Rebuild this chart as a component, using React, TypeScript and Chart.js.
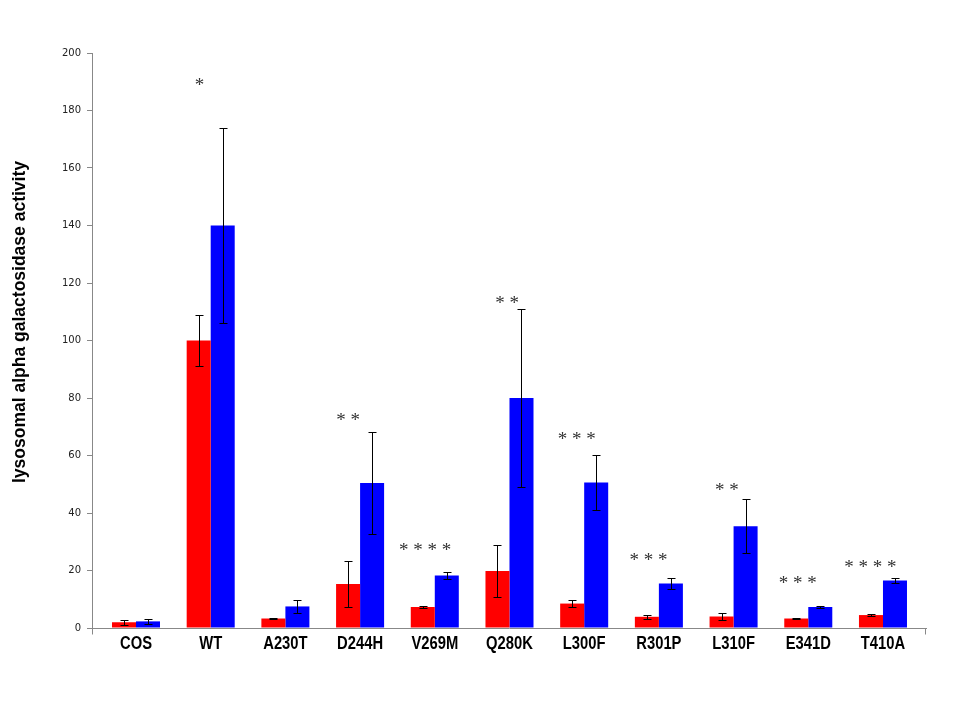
import React, { useEffect, useRef } from "react";
import { Chart, registerables } from "chart.js";

Chart.register(...registerables);

const categories = ["COS", "WT", "A230T", "D244H", "V269M", "Q280K", "L300F", "R301P", "L310F", "E341D", "T410A"];
const redValues = [2.0, 100, 3.3, 15.3, 7.3, 19.8, 8.5, 3.9, 4.0, 3.3, 4.5];
const redErrors = [0.8, 9, 0.2, 8, 0.5, 9, 1.3, 0.7, 1.3, 0.3, 0.2];
const blueValues = [2.3, 140, 7.5, 50.4, 18.3, 80, 50.6, 15.5, 35.4, 7.3, 16.5];
const blueErrors = [0.9, 34, 2.3, 17.7, 1.2, 31, 9.5, 2.0, 9.4, 0.4, 0.8];
const starLabels = ["", "*", "", "**", "****", "**", "***", "***", "**", "***", "****"];
const starLevels = [0, 190, 0, 73.4, 28, 114, 66.8, 24.7, 49, 16.7, 22.3];
const starOffsets = [0, -0.15, 0, -0.16, -0.13, -0.03, -0.1, -0.14, -0.09, -0.14, -0.17];
const yTicks = [0, 20, 40, 60, 80, 100, 120, 140, 160, 180, 200];
const yTitle = "lysosomal alpha galactosidase activity";

const NARROW = 0.82;
const boldFont = "bold 18px 'Liberation Sans', Arial, sans-serif";

// Excel-style inset of the category band inside the axis line
const xBandPlugin = {
  id: "xBand",
  afterLayout(chart: any) {
    const s = chart.scales.x;
    s._startValue = -0.589;
    s._valueRange = 11.165;
  },
};

const errorBarPlugin = {
  id: "errorBars",
  afterDatasetsDraw(chart: any) {
    const ctx = chart.ctx;
    const yScale = chart.scales.y;
    ctx.save();
    ctx.strokeStyle = "#000";
    ctx.lineWidth = 1;
    chart.data.datasets.forEach((ds: any, di: number) => {
      const meta = chart.getDatasetMeta(di);
      meta.data.forEach((bar: any, i: number) => {
        const v = ds.data[i];
        const e = ds.errors[i];
        const x = Math.round(bar.x) + 0.5;
        const yTop = Math.round(yScale.getPixelForValue(v + e)) + 0.5;
        const yBot = Math.round(yScale.getPixelForValue(v - e)) + 0.5;
        ctx.beginPath();
        ctx.moveTo(x, yTop);
        ctx.lineTo(x, yBot);
        ctx.moveTo(x - 4, yTop);
        ctx.lineTo(x + 4, yTop);
        ctx.moveTo(x - 4, yBot);
        ctx.lineTo(x + 4, yBot);
        ctx.stroke();
      });
    });
    ctx.restore();
  },
};

const textPlugin = {
  id: "texts",
  afterDraw(chart: any) {
    const ctx = chart.ctx;
    const xScale = chart.scales.x;
    const yScale = chart.scales.y;
    const area = chart.chartArea;

    // end tick marks of the category axis
    ctx.save();
    ctx.strokeStyle = "#888";
    ctx.lineWidth = 1;
    ctx.beginPath();
    const yb = Math.round(area.bottom) + 0.5;
    ctx.moveTo(Math.round(area.left) + 0.5, yb);
    ctx.lineTo(Math.round(area.left) + 0.5, yb + 6);
    ctx.moveTo(Math.round(area.right) - 0.5, yb);
    ctx.lineTo(Math.round(area.right) - 0.5, yb + 6);
    ctx.stroke();
    ctx.restore();

    // significance stars
    ctx.save();
    ctx.fillStyle = "#333";
    ctx.font = "19px 'Liberation Serif', 'DejaVu Serif', serif";
    ctx.textAlign = "center";
    ctx.textBaseline = "middle";
    starLabels.forEach((s, i) => {
      if (!s) return;
      const x = xScale.getPixelForValue(i + starOffsets[i]);
      const y = yScale.getPixelForValue(starLevels[i]);
      ctx.fillText(s.split("").join(" "), x, y + 4);
    });
    ctx.restore();

    // category labels (narrow bold)
    ctx.save();
    ctx.fillStyle = "#000";
    ctx.font = boldFont;
    ctx.textAlign = "center";
    ctx.textBaseline = "alphabetic";
    categories.forEach((c, i) => {
      const x = xScale.getPixelForValue(i);
      ctx.save();
      ctx.translate(x, yScale.bottom + 21);
      ctx.scale(NARROW, 1);
      ctx.fillText(c, 0, 0);
      ctx.restore();
    });
    ctx.restore();

    // y axis title
    ctx.save();
    ctx.fillStyle = "#000";
    ctx.font = boldFont;
    ctx.textAlign = "center";
    ctx.textBaseline = "middle";
    ctx.translate(20, 322);
    ctx.rotate(-Math.PI / 2);
    const w = ctx.measureText(yTitle).width;
    ctx.scale(322 / w, 1);
    ctx.fillText(yTitle, 0, 0);
    ctx.restore();
  },
};

export default function App() {
  const ref = useRef<HTMLCanvasElement>(null);
  useEffect(() => {
    if (!ref.current) return;
    const chart = new Chart(ref.current, {
      type: "bar",
      data: {
        labels: categories,
        datasets: [
          { data: redValues, errors: redErrors, backgroundColor: "#FF0000", borderWidth: 0 } as any,
          { data: blueValues, errors: blueErrors, backgroundColor: "#0000FF", borderWidth: 0 } as any,
        ],
      },
      options: {
        animation: false,
        responsive: false,
        devicePixelRatio: 1,
        layout: { padding: { top: 53, right: 34, bottom: 0, left: 0 } },
        plugins: { legend: { display: false }, tooltip: { enabled: false } },
        datasets: { bar: { categoryPercentage: 0.643, barPercentage: 1 } },
        scales: {
          x: {
            offset: true,
            grid: { display: false },
            border: { display: true, color: "#888" },
            ticks: { display: false },
            afterFit: (s: any) => { s.height = 92; },
          },
          y: {
            min: 0,
            max: 200,
            afterBuildTicks: (s: any) => { s.ticks = yTicks.map((v) => ({ value: v })); },
            grid: { display: true, drawOnChartArea: false, drawTicks: true, tickLength: 5, color: "#888" },
            border: { display: true, color: "#888" },
            ticks: {
              color: "#222",
              padding: 6,
              font: { family: "'DejaVu Sans', sans-serif", size: 10 },
            },
            afterFit: (s: any) => { s.width = 92; },
          },
        },
      },
      plugins: [xBandPlugin, errorBarPlugin, textPlugin],
    } as any);
    return () => chart.destroy();
  }, []);
  return (
    <div style={{ position: "absolute", left: 0, top: 0, width: 960, height: 720, background: "#fff" }}>
      <canvas ref={ref} width={960} height={720} style={{ width: 960, height: 720 }} />
    </div>
  );
}
